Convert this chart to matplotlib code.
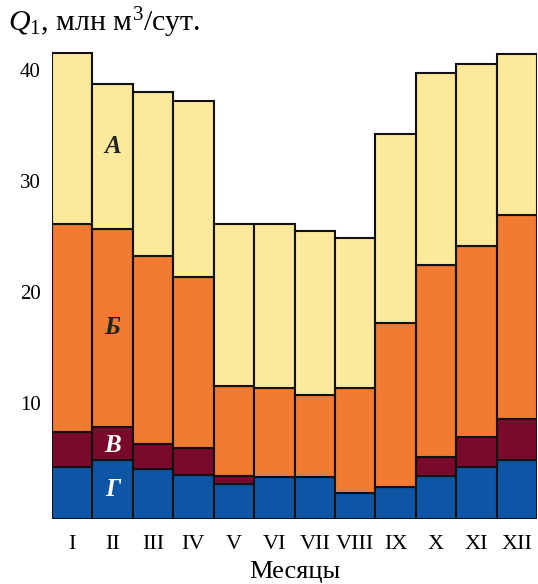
import numpy as np
import matplotlib
matplotlib.use("Agg")
import matplotlib.pyplot as plt
from matplotlib.transforms import ScaledTranslation

plt.rcParams['font.family'] = ['Liberation Serif', 'DejaVu Serif']
plt.rcParams['mathtext.fontset'] = 'custom'
plt.rcParams['mathtext.rm'] = 'Liberation Serif'
plt.rcParams['mathtext.it'] = 'Liberation Serif:italic'

# месяцы
months = ['I', 'II', 'III', 'IV', 'V', 'VI', 'VII', 'VIII', 'IX', 'X', 'XI', 'XII']

# составляющие Q1, млн м3/сут (снизу вверх)
g_vals = [4.7, 5.4, 4.5, 4.0, 3.2, 3.8, 3.8, 2.4, 2.9, 3.9, 4.7, 5.4]
v_vals = [3.2, 2.9, 2.3, 2.4, 0.7, 0.0, 0.0, 0.0, 0.0, 1.7, 2.7, 3.7]
b_vals = [18.8, 17.9, 17.0, 15.5, 8.1, 8.1, 7.4, 9.5, 14.8, 17.4, 17.3, 18.4]
a_vals = [15.4, 13.1, 14.8, 15.9, 14.7, 14.8, 14.8, 13.5, 17.1, 17.3, 16.4, 14.5]

yticks = [10, 20, 30, 40]

colors = {'А': '#FCE99B', 'Б': '#F27A31', 'В': '#7A0A2C', 'Г': '#0F55A6'}

fig = plt.figure(figsize=(5.38, 5.84), dpi=100)
ax = fig.add_axes([52 / 538, (584 - 519.3) / 584, 485 / 538, (519.3 - 32.2) / 584])

x = np.arange(len(months))
bottom = np.zeros(len(months))
for name, vals in [('Г', g_vals), ('В', v_vals), ('Б', b_vals), ('А', a_vals)]:
    vals = np.array(vals)
    ax.bar(x, vals, width=1.0, bottom=bottom, color=colors[name],
           edgecolor='#111111', linewidth=1.5)
    bottom += vals

ax.set_xlim(-0.5, 11.5)
ax.set_ylim(0, 44)

for s in ax.spines.values():
    s.set_visible(False)

ax.set_xticks(x)
ax.set_xticklabels(months, fontsize=16)
ax.set_yticks(yticks)
ax.set_yticklabels([str(t) for t in yticks], fontsize=15)
ax.tick_params(axis='both', length=0)
ax.tick_params(axis='y', pad=8)
ax.tick_params(axis='x', pad=11)
# подписи оси y чуть выше делений, как в оригинале
off = ScaledTranslation(0, 0.06, fig.dpi_scale_trans)
for lab in ax.get_yticklabels():
    lab.set_transform(lab.get_transform() + off)

ax.set_xlabel('Месяцы', fontsize=19, labelpad=5)

# буквы внутри столбцов
ax.text(1, 33.7, 'А', fontsize=18, fontweight='bold', style='italic',
        color='#222222', ha='center', va='center')
ax.text(1, 17.3, 'Б', fontsize=18, fontweight='bold', style='italic',
        color='#222222', ha='center', va='center')
ax.text(1, 6.7, 'В', fontsize=18, fontweight='bold', style='italic',
        color='white', ha='center', va='center')
ax.text(1, 2.65, 'Г', fontsize=18, fontweight='bold', style='italic',
        color='white', ha='center', va='center')

fig.text(8 / 538, 1 - 31.7 / 584, r'$Q_1$, млн м$^3$/сут.', fontsize=21.5,
         ha='left', va='baseline')

fig.savefig('out.png', dpi=100)
